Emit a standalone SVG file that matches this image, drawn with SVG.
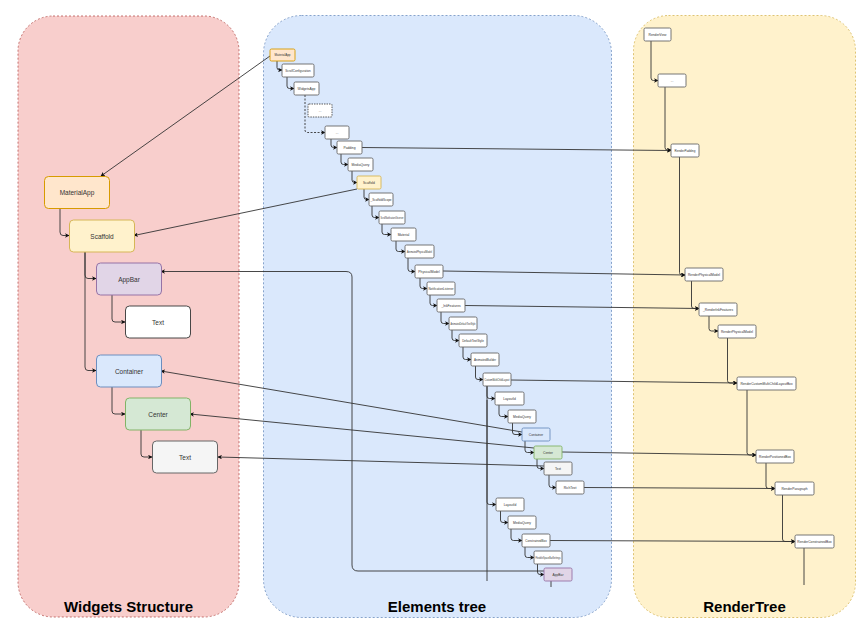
<svg xmlns="http://www.w3.org/2000/svg" width="865" height="636" viewBox="0 0 865 636">
<defs>
<style>
.lbl{font-family:"Liberation Sans",Arial,sans-serif;fill:#333;text-anchor:middle;dominant-baseline:central}
.w{font-size:6.5px}
.e{font-size:3.3px}
.title{font-family:"Liberation Sans",Arial,sans-serif;font-size:15px;font-weight:bold;fill:#000;text-anchor:middle}
.n{fill:#fff;stroke:#666;stroke-width:0.9}
.orange{fill:#ffe6cc;stroke:#d79b00}
.yellow{fill:#fff2cc;stroke:#d6b656}
.purple{fill:#e1d5e7;stroke:#9673a6}
.blue{fill:#dae8fc;stroke:#6c8ebf}
.green{fill:#d5e8d4;stroke:#82b366}
.grey{fill:#f5f5f5;stroke:#666}
.c{fill:none;stroke:#333;stroke-width:0.9}
</style>
<marker id="a" viewBox="0 0 8 8" refX="7" refY="4" markerWidth="4.5" markerHeight="4.5" markerUnits="userSpaceOnUse" orient="auto">
<path d="M0,0 L8,4 L0,8 L2,4 z" fill="#111"/>
</marker>
</defs>
<g id="panels">
<rect x="18" y="16" width="221" height="601" rx="35" fill="#f8cecc" stroke="#b85450" stroke-width="0.8" stroke-dasharray="2 2"/>
<rect x="263.5" y="15.5" width="348" height="602" rx="38" fill="#dae8fc" stroke="#6c8ebf" stroke-width="0.8" stroke-dasharray="2 2"/>
<rect x="633.5" y="15.5" width="222" height="602" rx="35" fill="#fff2cc" stroke="#d6b656" stroke-width="0.8" stroke-dasharray="2 2"/>
<text class="title" x="128.5" y="612">Widgets Structure</text>
<text class="title" x="437" y="612">Elements tree</text>
<text class="title" x="744.5" y="612">RenderTree</text>
</g>
<g id="connectors">
<path class="c" d="M60,208 V232 Q60,235.5 63,235.5 H69" marker-end="url(#a)"/>
<path class="c" d="M85,252 V275 Q85,278.5 88,278.5 H96" marker-end="url(#a)"/>
<path class="c" d="M85,252 V367 Q85,370.5 88,370.5 H96" marker-end="url(#a)"/>
<path class="c" d="M112,295 V319 Q112,322 115,322 H125" marker-end="url(#a)"/>
<path class="c" d="M112,387 V411 Q112,414 115,414 H125" marker-end="url(#a)"/>
<path class="c" d="M141,430 V454 Q141,457 144,457 H152" marker-end="url(#a)"/>
<path class="c" d="M270,56 L101,176" marker-end="url(#a)"/>
<path class="c" d="M357,189 L134,235.5" marker-end="url(#a)"/>
<path class="c" d="M544,571 H358 Q352,571 352,565 V277 Q352,271.5 346,271.5 H161" marker-end="url(#a)"/>
<path class="c" d="M522,432 L161,371" marker-end="url(#a)"/>
<path class="c" d="M534,448 L190,414" marker-end="url(#a)"/>
<path class="c" d="M544,466 L218,457" marker-end="url(#a)"/>
<path class="c" d="M277,61 V67.5 Q277,70 279.5,70 H282" marker-end="url(#a)"/>
<path class="c" d="M287,77 V86 Q287,88.5 289.5,88.5 H294" marker-end="url(#a)"/>
<path class="c" d="M305,95 V130 Q305,132.5 307.5,132.5 H325" stroke-dasharray="2 1.5" marker-end="url(#a)"/>
<path class="c" d="M331,139 V145 Q331,147.5 333.5,147.5 H337" marker-end="url(#a)"/>
<path class="c" d="M341,154 V162 Q341,164.5 343.5,164.5 H348" marker-end="url(#a)"/>
<path class="c" d="M352,171 V180 Q352,182.5 354.5,182.5 H357" marker-end="url(#a)"/>
<path class="c" d="M364,189 V197 Q364,199.5 366.5,199.5 H369" marker-end="url(#a)"/>
<path class="c" d="M372,206 V215 Q372,217.5 374.5,217.5 H379" marker-end="url(#a)"/>
<path class="c" d="M382,224 V232 Q382,234.5 384.5,234.5 H391" marker-end="url(#a)"/>
<path class="c" d="M396,241 V249 Q396,251.5 398.5,251.5 H405" marker-end="url(#a)"/>
<path class="c" d="M408,258 V269 Q408,271.5 410.5,271.5 H415" marker-end="url(#a)"/>
<path class="c" d="M420,278 V286 Q420,288.5 422.5,288.5 H427" marker-end="url(#a)"/>
<path class="c" d="M430,295 V303 Q430,305.5 432.5,305.5 H437" marker-end="url(#a)"/>
<path class="c" d="M441,312 V321 Q441,323.5 443.5,323.5 H449" marker-end="url(#a)"/>
<path class="c" d="M452,330 V338 Q452,340.5 454.5,340.5 H459" marker-end="url(#a)"/>
<path class="c" d="M463,347 V357 Q463,359.5 465.5,359.5 H471" marker-end="url(#a)"/>
<path class="c" d="M475.5,366 V377 Q475.5,379.5 478,379.5 H483" marker-end="url(#a)"/>
<path class="c" d="M487,386 V581"/>
<path class="c" d="M487,386 V396 Q487,398.5 489.5,398.5 H495" marker-end="url(#a)"/>
<path class="c" d="M487,400 V502 Q487,504.5 489.5,504.5 H496" marker-end="url(#a)"/>
<path class="c" d="M499,405 V414 Q499,416.5 501.5,416.5 H508" marker-end="url(#a)"/>
<path class="c" d="M512.5,423 V432 Q512.5,434.5 515,434.5 H522" marker-end="url(#a)"/>
<path class="c" d="M525,441 V450 Q525,452.5 527.5,452.5 H534" marker-end="url(#a)"/>
<path class="c" d="M537,459 V466 Q537,468.5 539.5,468.5 H544" marker-end="url(#a)"/>
<path class="c" d="M549,475 V485 Q549,487.5 551.5,487.5 H556" marker-end="url(#a)"/>
<path class="c" d="M500.5,511 V520 Q500.5,522.5 503,522.5 H508" marker-end="url(#a)"/>
<path class="c" d="M511,529 V538 Q511,540.5 513.5,540.5 H522" marker-end="url(#a)"/>
<path class="c" d="M525,547 V555 Q525,557.5 527.5,557.5 H534" marker-end="url(#a)"/>
<path class="c" d="M537.5,564 V572 Q537.5,574.5 540,574.5 H544" marker-end="url(#a)"/>
<path class="c" d="M551,581 V587"/>
<path class="c" d="M362,147.5 L671,150.5" marker-end="url(#a)"/>
<path class="c" d="M443,271 L685,275" marker-end="url(#a)"/>
<path class="c" d="M465,305.5 L699,308.5" marker-end="url(#a)"/>
<path class="c" d="M511,380 L737,383" marker-end="url(#a)"/>
<path class="c" d="M562,452 L756,455" marker-end="url(#a)"/>
<path class="c" d="M584,487.5 L775,488.5" marker-end="url(#a)"/>
<path class="c" d="M550,540.5 L795,541.5" marker-end="url(#a)"/>
<path class="c" d="M651,41 V78 Q651,80.5 653.5,80.5 H658" marker-end="url(#a)"/>
<path class="c" d="M665,87 V147.5 Q665,150 667.5,150 H671" marker-end="url(#a)"/>
<path class="c" d="M679.5,157 V272.5 Q679.5,275 682,275 H685" marker-end="url(#a)"/>
<path class="c" d="M691.5,281 V306 Q691.5,308.5 694,308.5 H699" marker-end="url(#a)"/>
<path class="c" d="M709,316 V328.5 Q709,331 711.5,331 H718" marker-end="url(#a)"/>
<path class="c" d="M727.5,338 V380.5 Q727.5,383 730,383 H737" marker-end="url(#a)"/>
<path class="c" d="M747,390 V452.5 Q747,455 749.5,455 H756" marker-end="url(#a)"/>
<path class="c" d="M766,463 V486 Q766,488.5 768.5,488.5 H775" marker-end="url(#a)"/>
<path class="c" d="M782.5,495 V539 Q782.5,541.5 785,541.5 H795" marker-end="url(#a)"/>
<path class="c" d="M804,548 V585"/>
</g>
<g id="widgets">
<g id="w-materialapp"><rect class="orange" x="44.5" y="176.5" width="65" height="32" rx="4"/><text class="lbl w" x="77" y="192.5">MaterialApp</text></g>
<g id="w-scaffold"><rect class="yellow" x="69.5" y="220" width="65" height="32" rx="4"/><text class="lbl w" x="102" y="236">Scaffold</text></g>
<g id="w-appbar"><rect class="purple" x="96.5" y="263" width="65" height="32" rx="4"/><text class="lbl w" x="129" y="279">AppBar</text></g>
<g id="w-text1"><rect x="125.5" y="306" width="65" height="32" rx="4" fill="#fff" stroke="#333" stroke-width="0.9"/><text class="lbl w" x="158" y="322">Text</text></g>
<g id="w-container"><rect class="blue" x="96.5" y="355" width="65" height="32" rx="4"/><text class="lbl w" x="129" y="371">Container</text></g>
<g id="w-center"><rect class="green" x="125.5" y="398" width="65" height="32" rx="4"/><text class="lbl w" x="158" y="414">Center</text></g>
<g id="w-text2"><rect class="grey" x="152.5" y="441" width="65" height="32" rx="4"/><text class="lbl w" x="185" y="457">Text</text></g>
</g>
<g id="elements">
<g id="e-materialapp"><rect class="n orange" x="270" y="49" width="25" height="12" rx="1.5"/><text class="lbl e" x="282.5" y="55" style="font-size:3px">MaterialApp</text></g>
<g id="e-scrollconfiguration"><rect class="n" x="282" y="64" width="32" height="13" rx="1.5"/><text class="lbl e" x="298" y="70.5" style="font-size:3px">ScrollConfiguration</text></g>
<g id="e-widgetsapp"><rect class="n" x="294" y="82" width="25" height="13" rx="1.5"/><text class="lbl e" x="306.5" y="88.5">WidgetsApp</text></g>
<g id="e-dots1"><rect x="308" y="104" width="24" height="13" rx="1" fill="#fff" stroke="#333" stroke-width="0.8" stroke-dasharray="1.5 1"/><text class="lbl e" x="320" y="110.5">...</text></g>
<g id="e-dots2"><rect class="n" x="325" y="126" width="24" height="13" rx="1.5"/><text class="lbl e" x="337" y="132.5">...</text></g>
<g id="e-padding"><rect class="n" x="337" y="141" width="25" height="13" rx="1.5"/><text class="lbl e" x="349.5" y="147.5">Padding</text></g>
<g id="e-mediaquery1"><rect class="n" x="348" y="158" width="25" height="13" rx="1.5"/><text class="lbl e" x="360.5" y="164.5">MediaQuery</text></g>
<g id="e-scaffold"><rect class="n yellow" x="357" y="176" width="24" height="13" rx="1.5"/><text class="lbl e" x="369" y="182.5">Scaffold</text></g>
<g id="e-scaffoldscope"><rect class="n" x="369" y="193" width="24" height="13" rx="1.5"/><text class="lbl e" x="381" y="199.5" style="font-size:3px">_ScaffoldScope</text></g>
<g id="e-scrollnotificationobserver"><rect class="n" x="379" y="211" width="26" height="13" rx="1.5"/><text class="lbl e" x="392" y="217.5" style="font-size:2.8px" textLength="23" lengthAdjust="spacingAndGlyphs">ScrollNotificationObserver</text></g>
<g id="e-material"><rect class="n" x="391" y="228" width="25" height="13" rx="1.5"/><text class="lbl e" x="403.5" y="234.5">Material</text></g>
<g id="e-animatedphysicalmodel"><rect class="n" x="405" y="245" width="29" height="13" rx="1.5"/><text class="lbl e" x="419.5" y="251.5" style="font-size:2.8px" textLength="25" lengthAdjust="spacingAndGlyphs">AnimatedPhysicalModel</text></g>
<g id="e-physicalmodel"><rect class="n" x="415" y="265" width="28" height="13" rx="1.5"/><text class="lbl e" x="429" y="271.5">PhysicalModel</text></g>
<g id="e-notificationlistener"><rect class="n" x="427" y="282" width="28" height="13" rx="1.5"/><text class="lbl e" x="441" y="288.5" style="font-size:2.8px" textLength="25" lengthAdjust="spacingAndGlyphs">NotificationListener</text></g>
<g id="e-inkfeatures"><rect class="n" x="437" y="299" width="28" height="13" rx="1.5"/><text class="lbl e" x="451" y="305.5">_InkFeatures</text></g>
<g id="e-animateddefaulttextstyle"><rect class="n" x="449" y="317" width="28" height="13" rx="1.5"/><text class="lbl e" x="463" y="323.5" style="font-size:2.8px" textLength="25" lengthAdjust="spacingAndGlyphs">AnimatedDefaultTextStyle</text></g>
<g id="e-defaulttextstyle"><rect class="n" x="459" y="334" width="28" height="13" rx="1.5"/><text class="lbl e" x="473" y="340.5" style="font-size:3px">DefaultTextStyle</text></g>
<g id="e-animatedbuilder"><rect class="n" x="471" y="353" width="28" height="13" rx="1.5"/><text class="lbl e" x="485" y="359.5" style="font-size:3px">AnimatedBuilder</text></g>
<g id="e-custommultichildlayout"><rect class="n" x="483" y="373" width="28" height="13" rx="1.5"/><text class="lbl e" x="497" y="379.5" style="font-size:2.8px" textLength="25" lengthAdjust="spacingAndGlyphs">CustomMultiChildLayout</text></g>
<g id="e-layoutid1"><rect class="n" x="495" y="392" width="29" height="13" rx="1.5"/><text class="lbl e" x="509.5" y="398.5">LayoutId</text></g>
<g id="e-mediaquery2"><rect class="n" x="508" y="410" width="28" height="13" rx="1.5"/><text class="lbl e" x="522" y="416.5">MediaQuery</text></g>
<g id="e-container"><rect class="n blue" x="522" y="428" width="28" height="13" rx="1.5"/><text class="lbl e" x="536" y="434.5">Container</text></g>
<g id="e-center"><rect class="n green" x="534" y="446" width="28" height="13" rx="1.5"/><text class="lbl e" x="548" y="452.5">Center</text></g>
<g id="e-text"><rect class="n grey" x="544" y="462" width="28" height="13" rx="1.5"/><text class="lbl e" x="558" y="468.5">Text</text></g>
<g id="e-richtext"><rect class="n" x="556" y="481" width="28" height="13" rx="1.5"/><text class="lbl e" x="570" y="487.5">RichText</text></g>
<g id="e-layoutid2"><rect class="n" x="496" y="498" width="28" height="13" rx="1.5"/><text class="lbl e" x="510" y="504.5">LayoutId</text></g>
<g id="e-mediaquery3"><rect class="n" x="508" y="516" width="28" height="13" rx="1.5"/><text class="lbl e" x="522" y="522.5">MediaQuery</text></g>
<g id="e-constrainedbox"><rect class="n" x="522" y="534" width="28" height="13" rx="1.5"/><text class="lbl e" x="536" y="540.5" style="font-size:3px">ConstrainedBox</text></g>
<g id="e-flexiblespacebarsettings"><rect class="n" x="534" y="551" width="28" height="13" rx="1.5"/><text class="lbl e" x="548" y="557.5" style="font-size:2.8px" textLength="25" lengthAdjust="spacingAndGlyphs">FlexibleSpaceBarSettings</text></g>
<g id="e-appbar"><rect class="n purple" x="544" y="568" width="28" height="13" rx="1.5"/><text class="lbl e" x="558" y="574.5">AppBar</text></g>
</g>
<g id="render">
<g id="r-renderview"><rect class="n" x="644" y="28" width="27" height="13" rx="1.5"/><text class="lbl e" x="657.5" y="34.5">RenderView</text></g>
<g id="r-dots"><rect class="n" x="658" y="74" width="28" height="13" rx="1.5"/><text class="lbl e" x="672" y="80.5">...</text></g>
<g id="r-renderpadding"><rect class="n" x="671" y="144" width="28" height="13" rx="1.5"/><text class="lbl e" x="685" y="150.5" style="font-size:3px">RenderPadding</text></g>
<g id="r-renderphysicalmodel1"><rect class="n" x="685" y="268" width="38" height="13" rx="1.5"/><text class="lbl e" x="704" y="274.5">RenderPhysicalModel</text></g>
<g id="r-renderinkfeatures"><rect class="n" x="699" y="303" width="38" height="13" rx="1.5"/><text class="lbl e" x="718" y="309.5">_RenderInkFeatures</text></g>
<g id="r-renderphysicalmodel2"><rect class="n" x="718" y="325" width="38" height="13" rx="1.5"/><text class="lbl e" x="737" y="331.5">RenderPhysicalModel</text></g>
<g id="r-rendercustommultichildlayoutbox"><rect class="n" x="737" y="377" width="59" height="13" rx="1.5"/><text class="lbl e" x="766.5" y="383.5">RenderCustomMultiChildLayoutBox</text></g>
<g id="r-renderpositionedbox"><rect class="n" x="756" y="450" width="38" height="13" rx="1.5"/><text class="lbl e" x="775" y="456.5">RenderPositionedBox</text></g>
<g id="r-renderparagraph"><rect class="n" x="775" y="482" width="39" height="13" rx="1.5"/><text class="lbl e" x="794.5" y="488.5">RenderParagraph</text></g>
<g id="r-renderconstrainedbox"><rect class="n" x="795" y="535" width="39" height="13" rx="1.5"/><text class="lbl e" x="814.5" y="541.5">RenderConstrainedBox</text></g>
</g>
</svg>
